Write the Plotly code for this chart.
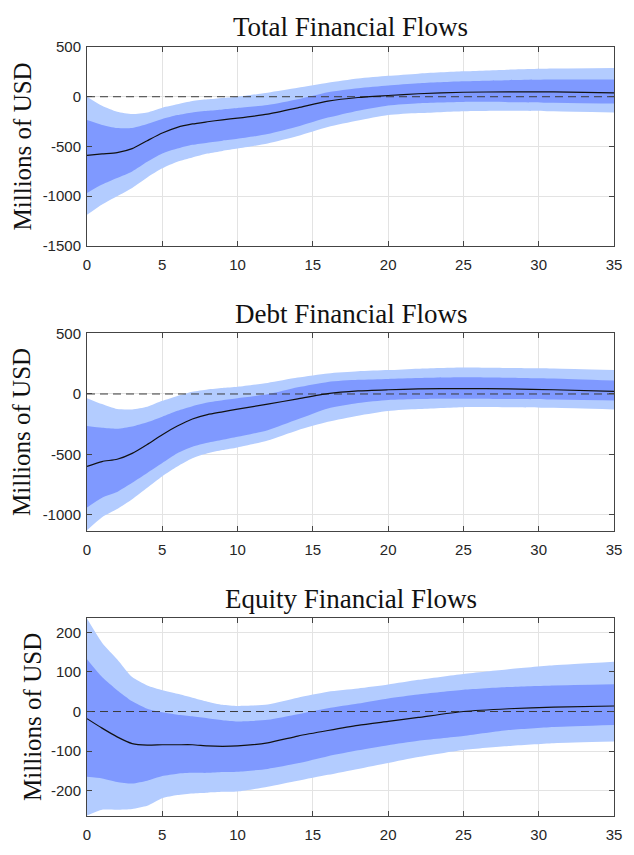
import plotly.graph_objects as go

# ---- data ----
horizon = [0, 1, 2, 3, 4, 5, 6, 7, 8, 9, 10, 12, 14, 16, 18, 20, 22, 25, 28, 31, 35]

titles = ["Total Financial Flows", "Debt Financial Flows", "Equity Financial Flows"]

total_median = [-590, -575, -562, -522, -442, -365, -308, -274, -252, -232, -215, -175, -112, -45, -8, 12, 30, 45, 49, 48, 38]
total_upper68 = [-234, -284, -315, -315, -275, -225, -185, -158, -142, -128, -114, -84, -26, 45, 85, 112, 135, 155, 166, 172, 172]
total_lower68 = [-968, -884, -818, -752, -655, -572, -522, -484, -462, -442, -424, -376, -300, -210, -140, -88, -65, -52, -55, -60, -68]
total_upper90 = [0, -92, -152, -175, -158, -110, -76, -43, -26, -12, 0, 40, 89, 140, 182, 210, 232, 255, 272, 283, 289]
total_lower90 = [-1188, -1083, -1000, -917, -812, -720, -654, -611, -572, -545, -522, -470, -395, -305, -240, -185, -165, -145, -140, -145, -158]

debt_median = [-600, -560, -541, -492, -418, -337, -266, -207, -171, -148, -125, -84, -40, 3, 25, 35, 42, 45, 42, 35, 22]
debt_upper68 = [-266, -280, -288, -269, -234, -188, -139, -101, -71, -52, -35, -3, 55, 100, 117, 125, 133, 139, 135, 128, 111]
debt_lower68 = [-940, -859, -812, -736, -655, -573, -492, -438, -405, -380, -355, -300, -210, -120, -75, -50, -42, -40, -42, -46, -54]
debt_upper90 = [-35, -84, -125, -128, -106, -57, -16, 19, 38, 50, 60, 92, 136, 170, 188, 198, 210, 220, 216, 212, 198]
debt_lower90 = [-1130, -1022, -954, -872, -777, -682, -601, -533, -492, -465, -443, -385, -300, -230, -180, -141, -125, -109, -110, -115, -128]

equity_median = [-18, -42, -64, -81, -85, -84, -84, -84, -87, -88, -87, -79, -62, -48, -35, -25, -15, 0, 7, 11, 14]
equity_upper68 = [132, 87, 54, 26, 7, -2, -8, -12, -17, -22, -25, -21, -7, 8, 20, 33, 43, 55, 62, 66, 69]
equity_lower68 = [-165, -169, -178, -182, -175, -163, -157, -155, -155, -153, -152, -145, -131, -113, -98, -85, -74, -62, -47, -39, -34]
equity_upper90 = [235, 174, 132, 87, 66, 54, 45, 35, 25, 17, 14, 18, 35, 50, 58, 68, 80, 95, 107, 117, 126]
equity_lower90 = [-263, -248, -248, -246, -238, -219, -211, -207, -205, -203, -202, -190, -175, -160, -145, -130, -115, -97, -87, -80, -76]

y_ranges = [[-1500, 500], [-1135, 505], [-264, 236]]
y_tick_vals = [[-1500, -1000, -500, 0, 500], [-1000, -500, 0, 500], [-200, -100, 0, 100, 200]]
y_tick_text = [["-1500", "-1000", "-500", "0", "500"], ["-1000", "-500", "0", "500"],
               ["-200", "-100", "0", "100", "200"]]
x_ticks = [0, 5, 10, 15, 20, 25, 30, 35]

panels = [
    (total_median, total_upper68, total_lower68, total_upper90, total_lower90),
    (debt_median, debt_upper68, debt_lower68, debt_upper90, debt_lower90),
    (equity_median, equity_upper68, equity_lower68, equity_upper90, equity_lower90),
]

# ---- layout geometry (pixels) ----
W, H = 634, 855
ML, MR, MT, MB = 87, 12, 47, 23
plot_px = [(47, 250), (339, 541), (630, 832)]
title_px = [27, 320, 610]
ylabel_x = [21, 21, 31]

PH = H - MT - MB
PW = W - ML - MR


def py(ypx):
    return (H - MB - ypx) / PH


def px(xpx):
    return (xpx - ML) / PW


LIGHT = "#B3CCFF"
DARK = "#7F99FF"
AXC = "#262626"

fig = go.Figure()
layout = dict(
    width=W, height=H,
    margin=dict(l=ML, r=MR, t=MT, b=MB, pad=0),
    paper_bgcolor="white", plot_bgcolor="white",
    showlegend=False,
    annotations=[],
)

for i, (med, u68, l68, u90, l90) in enumerate(panels):
    xa = "x" if i == 0 else f"x{i+1}"
    ya = "y" if i == 0 else f"y{i+1}"
    line_kw = dict(shape="spline", smoothing=0.6, width=0)
    fig.add_trace(go.Scatter(x=horizon, y=l90, mode="lines", line=dict(color=LIGHT, **line_kw),
                             xaxis=xa, yaxis=ya, hoverinfo="skip"))
    fig.add_trace(go.Scatter(x=horizon, y=u90, mode="lines", line=dict(color=LIGHT, **line_kw),
                             fill="tonexty", fillcolor=LIGHT, xaxis=xa, yaxis=ya, hoverinfo="skip"))
    fig.add_trace(go.Scatter(x=horizon, y=l68, mode="lines", line=dict(color=DARK, **line_kw),
                             xaxis=xa, yaxis=ya, hoverinfo="skip"))
    fig.add_trace(go.Scatter(x=horizon, y=u68, mode="lines", line=dict(color=DARK, **line_kw),
                             fill="tonexty", fillcolor=DARK, xaxis=xa, yaxis=ya, hoverinfo="skip"))
    fig.add_trace(go.Scatter(x=[0, 35], y=[0, 0], mode="lines",
                             line=dict(color="#3a3a3a", width=1, dash="8px,5px"),
                             xaxis=xa, yaxis=ya, hoverinfo="skip"))
    fig.add_trace(go.Scatter(x=horizon, y=med, mode="lines",
                             line=dict(color="#111111", width=1.2, shape="spline", smoothing=0.6),
                             xaxis=xa, yaxis=ya))

    top, bot = plot_px[i]
    axis_common = dict(
        showgrid=True, gridcolor="#e3e3e3", gridwidth=1,
        showline=True, linecolor="#444444", linewidth=1, mirror="ticks",
        ticks="inside", ticklen=5, tickcolor="#444444", tickwidth=1,
        zeroline=False,
        tickfont=dict(family="Liberation Sans, Arial, sans-serif", size=15, color=AXC),
        layer="above traces",
    )
    layout["xaxis" if i == 0 else f"xaxis{i+1}"] = dict(
        domain=[0, 1], range=[0, 35], tickvals=x_ticks, anchor=ya,
        ticklabelstandoff=5, **axis_common)
    layout["yaxis" if i == 0 else f"yaxis{i+1}"] = dict(
        domain=[py(bot), py(top)], range=y_ranges[i], tickvals=y_tick_vals[i],
        ticktext=y_tick_text[i], anchor=xa, ticklabelstandoff=2, **axis_common)

    layout["annotations"].append(dict(
        text=titles[i], xref="paper", yref="paper", x=0.5, y=py(title_px[i]),
        xanchor="center", yanchor="middle", showarrow=False,
        font=dict(family="Liberation Serif, DejaVu Serif, serif", size=27, color="#111111")))
    layout["annotations"].append(dict(
        text="Millions of USD", xref="paper", yref="paper", x=px(ylabel_x[i]),
        y=py((top + bot) / 2), xanchor="center", yanchor="middle", textangle=-90,
        showarrow=False,
        font=dict(family="Liberation Serif, DejaVu Serif, serif", size=25, color="#111111")))

fig.update_layout(**layout)

post = """
document.body.style.margin = '0';
"""
fig.write_html("out.html", config={"displayModeBar": False}, post_script=post)
